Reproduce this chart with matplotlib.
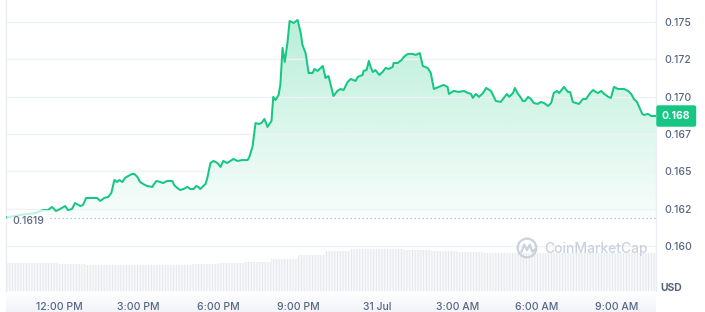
import numpy as np
import matplotlib
matplotlib.use("Agg")
import matplotlib.pyplot as plt
import matplotlib.transforms as mtransforms
from matplotlib.patches import Circle
from matplotlib.colors import to_rgb

plt.rcParams['font.family'] = ['Inter', 'DejaVu Sans']

# ---- data: minutes since 10:00 AM (30 Jul) and price in USD ----
times = [0, 32, 66, 84, 95, 104, 113, 122, 134, 140,
         149, 156, 168, 174, 181, 195, 206, 213, 222, 231,
         238, 245, 251, 256, 263, 269, 276, 285, 290, 297,
         303, 310, 319, 331, 333, 340, 349, 355, 364, 376,
         380, 387, 394, 401, 410, 417, 424, 430, 435, 439,
         451, 455, 462, 469, 478, 485, 491, 500, 507, 514,
         523, 534, 546, 550, 557, 564, 571, 577, 584, 591,
         600, 604, 609, 616, 620, 625, 630, 636, 641, 650,
         659, 666, 670, 677, 684, 693, 697, 704, 716, 722,
         729, 740, 749, 756, 763, 772, 779, 790, 795, 806,
         808, 815, 820, 824, 829, 835, 840, 844, 851, 858,
         865, 874, 876, 885, 894, 899, 908, 919, 926, 935,
         942, 953, 960, 967, 978, 989, 998, 1001, 1012, 1023,
         1035, 1044, 1051, 1055, 1062, 1069, 1078, 1085, 1096, 1107,
         1118, 1127, 1132, 1137, 1146, 1150, 1157, 1161, 1168, 1173,
         1180, 1186, 1193, 1202, 1209, 1216, 1225, 1232, 1238, 1245,
         1250, 1254, 1261, 1270, 1275, 1281, 1288, 1295, 1304, 1311,
         1320, 1327, 1333, 1338, 1345, 1352, 1361, 1367, 1374, 1383,
         1390, 1397, 1406, 1413, 1419, 1426, 1431, 1438, 1442, 1451,
         1458, 1469]

prices = [0.16190, 0.16207, 0.16220, 0.16240, 0.16240, 0.16261, 0.16234, 0.16247, 0.16267, 0.16240,
          0.16247, 0.16287, 0.16267, 0.16274, 0.16321, 0.16321, 0.16321, 0.16301, 0.16321, 0.16328,
          0.16354, 0.16441, 0.16428, 0.16441, 0.16428, 0.16455, 0.16468, 0.16482, 0.16482, 0.16462,
          0.16428, 0.16415, 0.16401, 0.16395, 0.16408, 0.16435, 0.16428, 0.16421, 0.16435, 0.16435,
          0.16408, 0.16388, 0.16374, 0.16381, 0.16395, 0.16381, 0.16381, 0.16401, 0.16395, 0.16381,
          0.16415, 0.16455, 0.16555, 0.16569, 0.16555, 0.16529, 0.16569, 0.16555, 0.16569, 0.16582,
          0.16569, 0.16575, 0.16575, 0.16596, 0.16663, 0.16823, 0.16817, 0.16823, 0.16850, 0.16797,
          0.16837, 0.16998, 0.16977, 0.17011, 0.17078, 0.17326, 0.17232, 0.17359, 0.17507, 0.17493,
          0.17513, 0.17426, 0.17346, 0.17292, 0.17158, 0.17158, 0.17185, 0.17172, 0.17205, 0.17125,
          0.17138, 0.17004, 0.17038, 0.17051, 0.17044, 0.17098, 0.17118, 0.17105, 0.17132, 0.17145,
          0.17172, 0.17178, 0.17239, 0.17199, 0.17165, 0.17178, 0.17158, 0.17145, 0.17165, 0.17192,
          0.17185, 0.17199, 0.17225, 0.17225, 0.17245, 0.17266, 0.17286, 0.17286, 0.17279, 0.17292,
          0.17205, 0.17192, 0.17158, 0.17051, 0.17065, 0.17078, 0.17065, 0.17018, 0.17038, 0.17031,
          0.17038, 0.17024, 0.17018, 0.16991, 0.17018, 0.16998, 0.17024, 0.17058, 0.17038, 0.16971,
          0.16964, 0.16998, 0.17018, 0.16998, 0.17024, 0.17058, 0.17018, 0.17004, 0.16971, 0.16971,
          0.16998, 0.16984, 0.16957, 0.16951, 0.16964, 0.16957, 0.16937, 0.16957, 0.17024, 0.17038,
          0.17024, 0.17038, 0.17065, 0.17031, 0.17031, 0.16964, 0.16957, 0.16951, 0.16984, 0.16984,
          0.17024, 0.17044, 0.17031, 0.17024, 0.17038, 0.17018, 0.16998, 0.16991, 0.17065, 0.17051,
          0.17051, 0.17051, 0.17038, 0.17018, 0.16984, 0.16964, 0.16931, 0.16884, 0.16877, 0.16884,
          0.16870, 0.16870]

# hourly volume (arbitrary units), hour start minutes
vol_times = [0, 60, 120, 180, 240, 300, 360, 420, 480, 540, 600, 660, 720,
             780, 840, 900, 960, 1020, 1080, 1140, 1200, 1260, 1320, 1380, 1440]
volumes = [28, 28, 27, 26, 26, 26, 26, 27, 28, 29, 32, 36, 40,
           42, 42, 41, 40, 39, 38, 38, 38, 38, 38, 38, 38]

open_price = 0.1619
last_price_label = "0.168"
ytick_vals = [0.160, 0.1625, 0.165, 0.1675, 0.170, 0.1725, 0.175]
ytick_labels = ["0.160", "0.162", "0.165", "0.167", "0.170", "0.172", "0.175"]
xtick_vals = [120, 300, 480, 660, 840, 1020, 1200, 1380]
xtick_labels = ["12:00 PM", "3:00 PM", "6:00 PM", "9:00 PM", "31 Jul",
                "3:00 AM", "6:00 AM", "9:00 AM"]

GREEN = "#16c784"
TXT = "#58667e"
GRID = "#eff2f5"

W, H = 705, 312
fig = plt.figure(figsize=(W / 100, H / 100), dpi=100)
fig.patch.set_facecolor("white")

# bottom gradient strip under x labels
axg = fig.add_axes([6 / W, 0, 650 / W, 21 / H], zorder=0)
grad = np.linspace(0, 1, 50).reshape(-1, 1)
c0 = np.array(to_rgb("#ffffff"))
c1 = np.array(to_rgb("#f1f3f9"))
img = c1 * grad[..., None] + c0 * (1 - grad[..., None])
img = np.repeat(img, 2, axis=1)
axg.imshow(img, aspect="auto", extent=[0, 1, 0, 1], origin="upper")
axg.set_axis_off()

rect = [6 / W, 21 / H, 650 / W, 291 / H]

# volume axes
axv = fig.add_axes(rect, zorder=1)
plt.rcParams['hatch.linewidth'] = 0.7
axv.bar(vol_times, volumes, width=60, align="edge", facecolor="#f7f8fa",
        edgecolor="#e6e8ec", linewidth=0, hatch="||||||")
axv.set_xlim(0, 1469)
axv.set_ylim(0, 291)
axv.set_axis_off()

# price axes
ax = fig.add_axes(rect, zorder=2)
ax.patch.set_alpha(0)
ymin, ymax = 0.15698, 0.17647
t = np.array(times, dtype=float)
p = np.array(prices)

# gradient fill under the line, down to the opening price
poly = ax.fill_between(t, p, open_price, where=p >= open_price, interpolate=True,
                       facecolor="none", edgecolor="none")
rgb = np.array(to_rgb(GREEN))
n = 256
alpha = np.linspace(0.30, 0.03, n).reshape(-1, 1)
gimg = np.zeros((n, 2, 4))
gimg[..., :3] = rgb
gimg[..., 3] = alpha
im = ax.imshow(gimg, aspect="auto", extent=[t[0], t[-1], open_price, p.max()],
               origin="upper", zorder=1, interpolation="bilinear")
for path in poly.get_paths()[:1]:
    im.set_clip_path(path, transform=ax.transData)

ax.plot(t, p, color=GREEN, lw=1.45, zorder=3, solid_joinstyle="round")

# opening price dotted line
ax.axhline(open_price, color="#a7b1c2", lw=0.9, ls=(0, (1, 2.2)), zorder=2)

ax.set_xlim(0, 1469)
ax.set_ylim(ymin, ymax)

ax.set_yticks(ytick_vals)
ax.set_yticklabels(ytick_labels)
ax.yaxis.tick_right()
ax.set_xticks(xtick_vals)
ax.set_xticklabels(xtick_labels)
ax.tick_params(axis="y", length=0, pad=6, labelsize=7.5, labelcolor=TXT)
ax.tick_params(axis="x", length=0, pad=8, labelsize=7.5, labelcolor=TXT)
for lab in ax.get_yticklabels() + ax.get_xticklabels():
    lab.set_fontweight("medium")
ax.grid(axis="y", color=GRID, lw=1.0, zorder=0)
ax.grid(axis="x", visible=False)
for s in ["top", "bottom"]:
    ax.spines[s].set_visible(False)
for s in ["left", "right"]:
    ax.spines[s].set_color("#eaedf1")
    ax.spines[s].set_linewidth(1.0)

# opening price label
blend = mtransforms.blended_transform_factory(ax.transAxes, ax.transData)
ax.text(6 / 650, open_price - 0.0002, "0.1619", transform=blend,
        ha="left", va="center", fontsize=7.5, color=TXT, fontweight="medium", zorder=5,
        bbox=dict(boxstyle="square,pad=0.5", facecolor="white", edgecolor="none", alpha=0.75))

# current price tag
ax.text(1 + 6 / 650, p[-1], last_price_label, transform=blend,
        ha="left", va="center", fontsize=7.5, color="white", fontweight="bold", zorder=6,
        clip_on=False,
        bbox=dict(boxstyle="round,pad=0.55,rounding_size=0.2", facecolor=GREEN, edgecolor="none"))

# USD label
fig.text(671 / W, 1 - 288 / H, "USD", ha="center", va="center", fontsize=7.5,
         color=TXT, fontweight="bold")

# watermark
wm_color = "#cbd1dc"
fig.text(544 / W, 1 - 249 / H, "CoinMarketCap", ha="left", va="center",
         fontsize=10, color=wm_color, fontweight="medium", zorder=3)
axl = fig.add_axes([516 / W, 1 - 259 / H, 22 / W, 22 / H], zorder=3)
axl.set_xlim(-1, 1)
axl.set_ylim(-1, 1)
axl.set_aspect("equal")
axl.add_patch(Circle((0, 0), 0.85, fill=False, ec=wm_color, lw=1.6))
axl.plot([-0.5, -0.25, 0.0, 0.25, 0.5, 0.75], [-0.35, 0.3, -0.2, 0.3, -0.35, -0.1],
         color=wm_color, lw=1.6, solid_joinstyle="round")
axl.set_axis_off()

fig.savefig("out.png", dpi=100, facecolor="white")
